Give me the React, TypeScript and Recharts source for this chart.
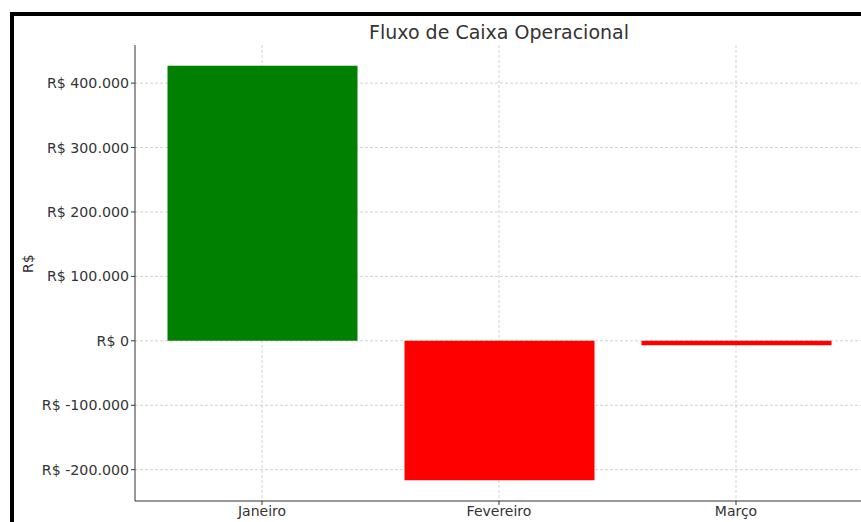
import React from 'react';
import { BarChart, Bar, Cell, XAxis, YAxis, CartesianGrid } from 'recharts';

const months = ['Janeiro', 'Fevereiro', 'Março'];
const cashFlow = [427000, -216500, -7000];
const yTicks = [-200000, -100000, 0, 100000, 200000, 300000, 400000];
const yDomain = [-248600, 459100];

const data = months.map((month, i) => ({ month, value: cashFlow[i] }));

const formatBRL = (v: number) => {
  const sign = v < 0 ? '-' : '';
  const digits = Math.abs(v).toFixed(0).replace(/\B(?=(\d{3})+(?!\d))/g, '.');
  return `R$ ${sign}${digits}`;
};

const font = '"DejaVu Sans", sans-serif';

export default function App() {
  return (
    <div
      style={{
        position: 'fixed',
        left: 0,
        top: 0,
        width: 861,
        height: 522,
        overflow: 'hidden',
        background: '#fff',
        fontFamily: font
      }}
    >
      <div
        style={{
          position: 'absolute',
          left: 10,
          top: 12,
          width: 900,
          height: 600,
          borderTop: '4px solid #000',
          borderLeft: '4px solid #000'
        }}
      />
      <div
        style={{
          position: 'absolute',
          left: 0,
          top: 20,
          width: 998,
          textAlign: 'center',
          fontSize: 19,
          color: '#333',
          lineHeight: '24px'
        }}
      >
        Fluxo de Caixa Operacional
      </div>
      <div style={{ position: 'absolute', left: 0, top: 0 }}>
        <BarChart
          width={863}
          height={522}
          data={data}
          margin={{ top: 45, right: 0, bottom: 0, left: 0 }}
        >
          <XAxis
            dataKey="month"
            height={21}
            padding={{ left: 8.5, right: 8.5 }}
            tickSize={4}
            tickMargin={1}
            tick={{ fill: '#333', fontSize: 14, fontFamily: font }}
            axisLine={{ stroke: '#333' }}
            tickLine={{ stroke: '#333' }}
          />
          <YAxis
            width={135}
            type="number"
            domain={yDomain}
            ticks={yTicks}
            tickFormatter={formatBRL}
            tickSize={4}
            tickMargin={2}
            tick={{ fill: '#333', fontSize: 14.2, fontFamily: font }}
            axisLine={{ stroke: '#333' }}
            tickLine={{ stroke: '#333' }}
            label={{
              value: 'R$',
              angle: -90,
              position: 'insideLeft',
              offset: 28,
              fill: '#333',
              fontSize: 14,
              fontFamily: font
            }}
          />
          <Bar dataKey="value" barSize={190} isAnimationActive={false}>
            {data.map((d) => (
              <Cell key={d.month} fill={d.value >= 0 ? '#008000' : '#ff0000'} />
            ))}
          </Bar>
          <CartesianGrid stroke="#c8c8c8" strokeDasharray="3 2" strokeWidth={0.8} syncWithTicks />
        </BarChart>
      </div>
    </div>
  );
}
